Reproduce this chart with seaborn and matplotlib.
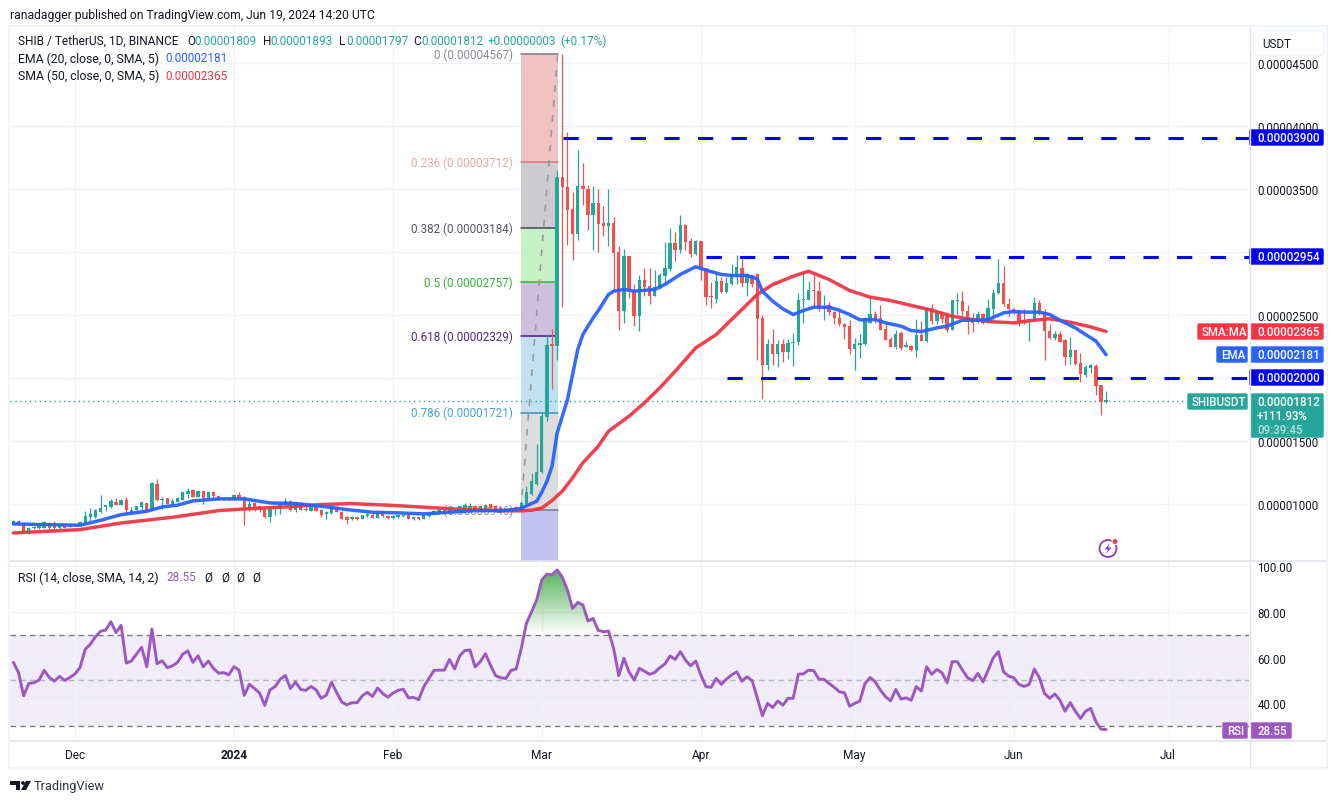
import numpy as np
import pandas as pd
import matplotlib
matplotlib.use("Agg")
import matplotlib.pyplot as plt
import seaborn as sns
from matplotlib.patches import Rectangle, Circle, FancyBboxPatch, PathPatch, Polygon
from matplotlib.path import Path

# prices are in units of 0.00001, one candle a day, first day is 19 Nov 2023
opens = [.838, .865, .841, .767, .804, .804, .809, .846, .830, .809,
         .838, .812, .820, .825, .846, .894, .894, .934, .973, .971,
         1.016, .992, 1.032, .934, .952, .973, 1.008, .952, 1.159, 1.026,
         1.042, .997, 1.016, 1.032, 1.079, 1.106, 1.055, 1.103, 1.047, 1.092,
         1.063, 1.032, 1.042, 1.026, 1.069, 1.055, .947, 1.002, .981, .957,
         .897, .955, .955, .987, 1.018, .952, .992, .955, .944, .971,
         .952, .918, .923, .973, .936, .894, .881, .886, .881, .899,
         .912, .886, .934, .905, .886, .894, .899, .910, .881, .886,
         .881, .899, .912, .920, .947, .926, .952, .939, .952, .952,
         .984, .957, .957, .995, .979, .965, .957, .939, .971, .955,
         1.000, 1.079, 1.159, 1.248, 1.688, 2.27, 2.248, 3.595, 3.516, 3.334,
         3.143, 3.524, 3.500, 3.286, 3.389, 3.223, 3.199, 3.223, 2.993, 2.532,
         2.961, 2.694, 2.485, 2.778, 2.723, 2.651, 2.715, 2.802, 2.858, 3.064,
         3.016, 3.207, 3.080, 2.977, 3.080, 2.866, 2.646, 2.627, 2.770, 2.675,
         2.739, 2.810, 2.871, 2.747, 2.810, 2.818, 2.474, 2.103, 2.270, 2.183,
         2.270, 2.201, 2.273, 2.281, 2.614, 2.619, 2.691, 2.685, 2.553, 2.572,
         2.524, 2.474, 2.421, 2.413, 2.230, 2.262, 2.267, 2.434, 2.508, 2.474,
         2.386, 2.302, 2.244, 2.355, 2.244, 2.254, 2.222, 2.341, 2.291, 2.548,
         2.452, 2.513, 2.495, 2.381, 2.604, 2.609, 2.532, 2.474, 2.439, 2.505,
         2.434, 2.545, 2.667, 2.751, 2.587, 2.545, 2.532, 2.455, 2.455, 2.452,
         2.593, 2.521, 2.373, 2.315, 2.349, 2.294, 2.161, 2.222, 2.116, 2.024,
         2.072, 2.095, 1.939, 1.809]
highs = [.873, .873, .846, .815, .825, .833, .860, .852, .860, .838,
         .841, .828, .836, .860, .944, .968, .960, 1.071, .984, 1.039,
         1.045, 1.037, 1.053, .973, .984, 1.016, 1.008, 1.174, 1.196, 1.050,
         1.047, 1.047, 1.050, 1.095, 1.127, 1.114, 1.103, 1.103, 1.095, 1.098,
         1.071, 1.050, 1.053, 1.071, 1.095, 1.063, 1.018, 1.010, .984, .957,
         .957, .984, 1.016, 1.047, 1.032, 1.010, 1.010, .979, .973, .979,
         .957, .939, .979, .979, .939, .899, .899, .891, .910, .923,
         .926, .928, .944, .912, .907, .910, .915, .912, .905, .891,
         .910, .930, .947, .965, .960, .968, .960, .984, 1.005, 1.005,
         .990, .984, .995, 1.000, .985, .973, .965, .968, .984, 1.018,
         1.143, 1.244, 1.476, 1.725, 2.347, 2.389, 3.651, 4.567, 3.950, 3.474,
         3.802, 3.699, 3.532, 3.524, 3.493, 3.358, 3.493, 3.278, 3.043, 3.024,
         2.961, 2.739, 2.810, 2.866, 2.866, 2.850, 2.831, 3.072, 3.188, 3.154,
         3.286, 3.215, 3.104, 3.088, 3.080, 2.871, 2.757, 2.844, 2.799, 2.794,
         2.905, 2.969, 2.958, 2.831, 2.815, 2.826, 2.500, 2.302, 2.389, 2.296,
         2.307, 2.302, 2.355, 2.672, 2.831, 2.770, 2.810, 2.770, 2.659, 2.603,
         2.530, 2.545, 2.434, 2.460, 2.315, 2.349, 2.480, 2.638, 2.527, 2.579,
         2.434, 2.323, 2.381, 2.368, 2.288, 2.262, 2.468, 2.447, 2.561, 2.587,
         2.535, 2.524, 2.505, 2.619, 2.672, 2.688, 2.579, 2.513, 2.532, 2.513,
         2.627, 2.699, 2.942, 2.889, 2.632, 2.553, 2.540, 2.540, 2.466, 2.638,
         2.619, 2.545, 2.421, 2.368, 2.368, 2.302, 2.323, 2.222, 2.191, 2.103,
         2.111, 2.111, 1.944, 1.893]
lows = [.833, .833, .767, .762, .801, .801, .807, .801, .799, .801,
        .809, .810, .818, .820, .841, .862, .883, .926, .939, .965,
        .992, .992, .910, .918, .918, .944, .952, .947, 1.021, .955,
        .997, .992, 1.013, 1.029, 1.045, 1.050, 1.055, 1.000, 1.042, 1.045,
        1.026, 1.029, 1.026, 1.026, 1.045, .828, .939, .939, .931, .886,
        .852, .907, .915, .984, .939, .931, .952, .944, .942, .939,
        .894, .881, .920, .931, .878, .841, .873, .873, .878, .897,
        .886, .883, .894, .881, .881, .889, .897, .878, .873, .873,
        .878, .897, .910, .915, .915, .923, .934, .936, .947, .947,
        .947, .952, .952, .955, .937, .930, .931, .934, .950, .950,
        .994, 1.071, 1.145, 1.240, 1.653, 1.910, 2.137, 2.561, 3.048, 2.932,
        3.088, 3.366, 3.167, 3.016, 3.000, 3.120, 3.040, 2.699, 2.381, 2.429,
        2.633, 2.413, 2.366, 2.651, 2.585, 2.646, 2.699, 2.739, 2.844, 2.921,
        2.985, 3.016, 2.953, 2.969, 2.773, 2.572, 2.553, 2.588, 2.667, 2.672,
        2.731, 2.739, 2.720, 2.646, 2.720, 2.143, 1.833, 2.058, 2.103, 2.082,
        2.124, 2.148, 2.090, 2.262, 2.429, 2.614, 2.566, 2.527, 2.455, 2.500,
        2.421, 2.413, 2.302, 2.183, 2.058, 2.156, 2.262, 2.429, 2.434, 2.381,
        2.296, 2.244, 2.228, 2.217, 2.241, 2.214, 2.161, 2.288, 2.286, 2.421,
        2.421, 2.429, 2.360, 2.375, 2.508, 2.500, 2.344, 2.365, 2.429, 2.423,
        2.429, 2.447, 2.660, 2.566, 2.492, 2.508, 2.408, 2.421, 2.288, 2.447,
        2.500, 2.143, 2.307, 2.294, 2.280, 2.103, 2.111, 2.098, 1.963, 2.003,
        2.037, 1.860, 1.701, 1.797]
closes = [.865, .833, .772, .809, .815, .828, .852, .809, .809, .828,
          .809, .825, .833, .852, .905, .920, .947, .968, .979, 1.018,
          .992, 1.032, .947, .947, .979, 1.010, .952, 1.161, 1.026, 1.039,
          1.000, 1.024, 1.042, 1.090, 1.103, 1.055, 1.103, 1.045, 1.090, 1.058,
          1.032, 1.047, 1.034, 1.071, 1.047, .952, 1.000, .976, .952, .894,
          .955, .971, 1.000, 1.018, .952, .997, .952, .947, .971, .942,
          .912, .934, .973, .934, .881, .873, .889, .881, .907, .918,
          .889, .926, .899, .889, .905, .907, .910, .881, .889, .881,
          .907, .926, .939, .952, .920, .965, .939, .979, .992, .984,
          .952, .979, .992, .965, .939, .939, .936, .965, .952, 1.005,
          1.090, 1.175, 1.254, 1.693, 2.262, 2.25, 3.595, 3.510, 3.326, 3.143,
          3.524, 3.493, 3.286, 3.389, 3.215, 3.199, 3.223, 2.985, 2.532, 2.961,
          2.683, 2.485, 2.778, 2.715, 2.651, 2.715, 2.810, 2.871, 3.064, 3.016,
          3.207, 3.072, 2.977, 3.080, 2.858, 2.638, 2.638, 2.770, 2.675, 2.747,
          2.818, 2.879, 2.747, 2.823, 2.744, 2.468, 2.103, 2.270, 2.183, 2.270,
          2.201, 2.275, 2.286, 2.619, 2.627, 2.691, 2.685, 2.553, 2.561, 2.519,
          2.476, 2.421, 2.405, 2.230, 2.270, 2.275, 2.474, 2.508, 2.460, 2.381,
          2.296, 2.244, 2.349, 2.236, 2.254, 2.222, 2.341, 2.291, 2.553, 2.452,
          2.532, 2.468, 2.381, 2.614, 2.614, 2.527, 2.439, 2.434, 2.505, 2.434,
          2.553, 2.672, 2.751, 2.580, 2.540, 2.519, 2.429, 2.429, 2.460, 2.593,
          2.513, 2.368, 2.315, 2.347, 2.283, 2.161, 2.222, 2.109, 2.029, 2.082,
          2.098, 1.931, 1.809, 1.812]

ema_days = [-43, -30, -26, -22, -17, -14, -11, -8, -3, 2, 7, 12, 17, 22, 27, 32, 37, 42, 47, 52, 55,
            56, 58, 59, 60, 61, 62, 63, 65, 66, 67, 68, 70, 71, 73, 74, 76, 78, 82, 84, 87, 90, 92, 95,
            97, 100, 102, 103, 105, 107, 109, 111, 113, 116, 118, 120, 122, 125, 127, 130, 132, 134,
            137, 139, 142, 145, 147, 150, 152, 154, 157, 159, 161, 164, 166, 168, 169, 170]
ema_vals = [.838, .828, .867, .912, .939, .973, .987, 1.021, 1.037, 1.037, 1.005, 1.000, .979, .952, .931,
            .926, .918, .931, .944, .944, .952, .963, 1.000, 1.018, 1.090, 1.177, 1.296, 1.561, 1.825, 2.024,
            2.222, 2.341, 2.473, 2.530, 2.659, 2.686, 2.699, 2.686, 2.699, 2.739, 2.818, 2.879, 2.852, 2.818,
            2.810, 2.810, 2.783, 2.685, 2.606, 2.545, 2.500, 2.532, 2.558, 2.558, 2.534, 2.500, 2.458, 2.460,
            2.434, 2.408, 2.373, 2.365, 2.394, 2.408, 2.455, 2.455, 2.460, 2.513, 2.524, 2.519, 2.519, 2.500,
            2.455, 2.394, 2.341, 2.290, 2.236, 2.181]
sma_days = [-43, -30, -22, -12, -3, 2, 10, 17, 23, 30, 37, 45, 52, 56, 58, 60, 62, 64, 66, 68, 71, 73, 77,
            80, 83, 86, 90, 94, 98, 102, 105, 109, 112, 116, 120, 124, 128, 132, 136, 140, 144, 148, 152,
            156, 159, 163, 167, 170]
sma_vals = [.767, .793, .846, .891, .944, .957, .973, .992, 1.000, .987, .971, .952, .944, .942, .947, .965,
            1.024, 1.098, 1.204, 1.323, 1.455, 1.574, 1.693, 1.799, 1.918, 2.050, 2.235, 2.341, 2.500, 2.659,
            2.738, 2.804, 2.844, 2.778, 2.691, 2.638, 2.611, 2.572, 2.534, 2.487, 2.460, 2.442, 2.434,
            2.455, 2.466, 2.439, 2.402, 2.365]

# one RSI value per candle
rsi_vals = [57.9, 53.4, 43.3, 48.7, 49, 50.2, 54.4, 51.3, 49.7, 51.8,
            50, 51.3, 52.8, 55.7, 63.6, 65.8, 69.1, 71.5, 72, 75.7,
            70.9, 74.1, 57.6, 58.5, 61.5, 64.5, 56, 72.5, 57.3, 58.6,
            55.6, 56.4, 57.9, 61.5, 62.9, 57.9, 60.8, 56, 58.5, 55.3,
            53.2, 53.4, 52.5, 56, 54.5, 43.5, 48.3, 46.5, 44.5, 39.1,
            45.9, 47.3, 50.5, 52.2, 46.5, 49.3, 46.1, 45.7, 47.4, 45.9,
            42.2, 43.6, 49.2, 44.8, 40.6, 39.4, 40.3, 40.3, 43.3, 44.8,
            43, 46.7, 44.3, 42.7, 44.5, 45.7, 46.2, 42.4, 42.6, 41.6,
            47.3, 50.9, 54.4, 54.5, 54.5, 59.2, 55, 60.8, 63.1, 63.3,
            55.9, 58.2, 61.7, 56.7, 52.1, 51.2, 50.9, 54.4, 55, 64,
            75, 80, 85.2, 93.9, 96.5, 96.1, 98.3,
            95.1, 89.5, 81.5, 84.1, 83, 76, 77.1, 71.9, 71.3, 71.6,
            64, 52.1, 59.7, 53.8, 50.2, 55.3, 54.1, 52.7, 53.5, 55.6,
            57.2, 60.7, 59.2, 62.6, 58.9, 56.4, 58.5, 52.4, 47.3, 47,
            50.9, 48.3, 50.6, 52.4, 53.8, 49.7, 51.6, 49.9, 42.4, 34.6,
            40, 38.2, 41, 39.2, 42.2, 42.2, 52.7, 52.9, 54.5, 54.3,
            50.6, 50.5, 48.7, 47, 45.1, 44.6, 38.8, 40, 41, 48.7,
            51.3, 49.4, 45.8, 42.9, 41.1, 46.1, 41.9, 42.4, 41.4, 47.3,
            45.4, 56, 52.7, 54.8, 53.4, 49, 58.2, 58.2, 54.5, 51.2,
            49.9, 53.1, 49.4, 54.5, 59.9, 62.6, 53.8, 51.9, 51.2, 48.3,
            47.4, 48.3, 55, 51.2, 44.3, 42.2, 44.1, 41.4, 36.6, 40.3,
            36.6, 33.4, 36.6, 37.8, 32, 28.7, 28.55]

fib_levels = [4.567, 3.712, 3.184, 2.757, 2.329, 1.721, .946]
fib_labels = ["0 (0.00004567)", "0.236 (0.00003712)", "0.382 (0.00003184)", "0.5 (0.00002757)",
              "0.618 (0.00002329)", "0.786 (0.00001721)", "1 (0.00000946)"]
fib_lines = ["#787b86", "#e57373", "#45454f", "#22c322", "#4a148c", "#3d8ec4", "#787b86"]
fib_text = ["#8a8d96", "#eaa79e", "#55555f", "#35b535", "#4a2a85", "#4aa0d8", "#8a8d96"]
fib_fills = ["#f0c2c2", "#cbcbd0", "#c5f1c5", "#cdbfe0", "#c2e0f2", "#dcdcdc", "#c0c3ee"]

sr_levels = [3.900, 2.954, 2.000]
sr_start = [64.1, 92, 96.1]

price_ticks = [1.0, 1.5, 2.0, 2.5, 3.0, 3.5, 4.0, 4.5]
rsi_ticks = [40, 60, 80, 100]
month_days = [-31, 0, 31, 60, 91, 121, 152, 182]
month_labels = ["Dec", "2024", "Feb", "Mar", "Apr", "May", "Jun", "Jul"]

UP = "#26a69a"
DOWN = "#ef5350"
BLUE = "#2962ff"
RED = "#f23645"
PURPLE = "#9c58c0"
GRID = "#f0f3fa"
EDGE = "#e0e3eb"
INK = "#131722"
W, H = 1339, 804
UNIT = 1e-5

sns.set_theme(style="white")
plt.rcParams["font.family"] = ["Roboto", "DejaVu Sans"]

df = pd.DataFrame({"open": opens, "high": highs, "low": lows, "close": closes}) * UNIT
df["day"] = np.arange(-43, -43 + len(df))
df["rsi"] = rsi_vals
up = df["close"] >= df["open"]

fig = plt.figure(figsize=(W / 100, H / 100), dpi=100, facecolor="white")


def box(x0, y0, x1, y1):
    return [x0 / W, 1 - y1 / H, (x1 - x0) / W, (y1 - y0) / H]


ax = fig.add_axes(box(10, 28.5, 1249, 561.5))
ax_rsi = fig.add_axes(box(10, 563, 1249, 741))
over = fig.add_axes([0, 0, 1, 1], zorder=10)
over.set_xlim(0, W)
over.set_ylim(H, 0)
over.axis("off")
over.patch.set_alpha(0)

# price panel
ax.set_xlim(-43.66, 197.85)
ax.set_ylim(.548 * UNIT, 4.778 * UNIT)
ax.set_xticks(month_days)
ax.set_xticklabels([])
ax.set_yticks([p * UNIT for p in price_ticks])
ax.set_yticklabels(["%.8f" % (p * UNIT) for p in price_ticks], fontsize=8.3, color=INK)
ax.yaxis.tick_right()
ax.tick_params(axis="both", length=0)
ax.tick_params(axis="y", pad=6)
ax.grid(True, color=GRID, linewidth=1)
ax.set_axisbelow(True)
for s in ax.spines.values():
    s.set_visible(False)

# fib blocks
fib_x0, fib_x1 = 55.9, 63.1
fib_edges = fib_levels + [ax.get_ylim()[0] / UNIT]
for i in range(len(fib_levels)):
    ax.fill_between([fib_x0, fib_x1], fib_edges[i + 1] * UNIT, fib_edges[i] * UNIT,
                    color=fib_fills[i], linewidth=0, zorder=1)
    ax.plot([fib_x0, fib_x1], [fib_levels[i] * UNIT] * 2, color=fib_lines[i], lw=1.1, zorder=1.5)
    ax.text(fib_x0 - 1.55, fib_levels[i] * UNIT, fib_labels[i], ha="right", va="center",
            fontsize=8.4, color=fib_text[i], zorder=1.2)
ax.plot([fib_x0, fib_x1], [fib_levels[-1] * UNIT, fib_levels[0] * UNIT], color="#9a9a9a", lw=1.2,
        linestyle=(0, (4, 5)), zorder=1.6)

# candles
ax.vlines(df["day"][up], df["low"][up], df["high"][up], color=UP, lw=0.9, zorder=3)
ax.vlines(df["day"][~up], df["low"][~up], df["high"][~up], color=DOWN, lw=0.9, zorder=3)
ax.bar(df["day"][up], (df["close"] - df["open"])[up].clip(lower=.012 * UNIT), bottom=df["open"][up],
       width=.66, color=UP, linewidth=0, zorder=3)
ax.bar(df["day"][~up], (df["open"] - df["close"])[~up].clip(lower=.012 * UNIT), bottom=df["close"][~up],
       width=.66, color=DOWN, linewidth=0, zorder=3)

ma = pd.DataFrame({"day": ema_days, "ema": np.array(ema_vals) * UNIT})
ma2 = pd.DataFrame({"day": sma_days, "sma": np.array(sma_vals) * UNIT})
sns.lineplot(data=ma2, x="day", y="sma", ax=ax, color=RED, linewidth=2.5, alpha=.95, zorder=4)
sns.lineplot(data=ma, x="day", y="ema", ax=ax, color=BLUE, linewidth=2.5, alpha=.95, zorder=4.5)
ax.set_xlabel("")
ax.set_ylabel("")

# support and resistance lines
for lvl, start in zip(sr_levels, sr_start):
    ax.plot([start, ax.get_xlim()[1]], [lvl * UNIT, lvl * UNIT], color="#0000ff", lw=2.2,
            linestyle=(0, (5, 6)), zorder=5)
ax.axhline(closes[-1] * UNIT, color=UP, lw=1, linestyle=(0, (1, 2.5)), zorder=2)

# rsi panel
ax_rsi.set_xlim(ax.get_xlim())
ax_rsi.set_ylim(24.0, 101.75)
ax_rsi.set_xticks(month_days)
ax_rsi.set_xticklabels(month_labels, fontsize=8.6, color=INK)
ax_rsi.get_xticklabels()[1].set_fontweight("bold")
ax_rsi.set_yticks(rsi_ticks)
ax_rsi.set_yticklabels(["%.2f" % t for t in rsi_ticks], fontsize=8.3, color=INK)
ax_rsi.yaxis.tick_right()
ax_rsi.tick_params(axis="both", length=0)
ax_rsi.tick_params(axis="y", pad=6)
ax_rsi.tick_params(axis="x", pad=5.5)
ax_rsi.grid(True, color=GRID, linewidth=1)
ax_rsi.set_axisbelow(True)
for s in ax_rsi.spines.values():
    s.set_visible(False)
ax_rsi.axhspan(30, 70, color="#f0ecf8", linewidth=0, zorder=.5)
ax_rsi.axhline(70, color="#787b86", lw=1, linestyle=(0, (4, 3)), zorder=1.5)
ax_rsi.axhline(50, color="#b2b5be", lw=1, linestyle=(0, (4, 3)), zorder=1.5)
ax_rsi.axhline(30, color="#787b86", lw=1, linestyle=(0, (4, 3)), zorder=1.5)

# green gradient under the overbought part
shape = ax_rsi.fill_between(df["day"], 70, df["rsi"], where=df["rsi"] > 70, interpolate=True,
                            color="none", linewidth=0)
grad = np.zeros((100, 2, 4))
grad[..., 0] = 76 / 255
grad[..., 1] = 175 / 255
grad[..., 2] = 80 / 255
grad[..., 3] = np.linspace(0, .95, 100)[:, None]
im = ax_rsi.imshow(grad, extent=[df["day"].min(), df["day"].max(), 70, max(rsi_vals)], origin="lower",
                   aspect="auto", zorder=1.8)
im.set_clip_path(PathPatch(Path.make_compound_path(*shape.get_paths()), transform=ax_rsi.transData))
ax_rsi.set_xlim(ax.get_xlim())
ax_rsi.set_ylim(24.0, 101.75)

sns.lineplot(data=df, x="day", y="rsi", ax=ax_rsi, color=PURPLE, linewidth=2.1, zorder=3)
ax_rsi.set_xlabel("")
ax_rsi.set_ylabel("")

# frame and separators
for x0, y0, x1, y1 in [(8, 26, 1328, 28), (8, 768, 1328, 770), (8, 26, 10, 770), (1326, 26, 1328, 770)]:
    over.add_patch(Rectangle((x0, y0), x1 - x0, y1 - y0, color=GRID, lw=0))
over.plot([10, 1326], [562, 562], color=EDGE, lw=1.2)
over.plot([10, 1326], [742, 742], color=EDGE, lw=1.2)
over.plot([1249.5, 1249.5], [28, 768], color=EDGE, lw=1)


def tag(x0, y0, x1, y1, color, label=None, label_x=None, size=8.3, weight="medium"):
    over.add_patch(FancyBboxPatch((x0 + 1, y0 + 1), x1 - x0 - 2, y1 - y0 - 2, boxstyle="round,pad=0,rounding_size=1",
                                  fc=color, ec=color, lw=1))
    if label:
        over.text(label_x, (y0 + y1) / 2 + .3, label, color="white", fontsize=size, fontweight=weight,
                  ha="left", va="center")


tag(1249, 130, 1324, 147, "#0000ff", "0.00003900", 1257)
tag(1249, 249, 1324, 266, "#0000ff", "0.00002954", 1257)
tag(1197, 324, 1248, 341, RED, "SMA:MA", 1202)
tag(1250, 324, 1324, 341, RED, "0.00002365", 1257)
tag(1216, 347, 1248, 364, BLUE, "EMA", 1221)
tag(1250, 347, 1324, 364, BLUE, "0.00002181", 1257)
tag(1249, 370, 1324, 387, "#0000ff", "0.00002000", 1257)
tag(1187, 394, 1248, 411, UP, "SHIBUSDT", 1192)
tag(1250, 394, 1324, 439, UP, "0.00001812", 1257)
over.texts[-1].set_y(403)
over.text(1257, 417, "+111.93%", color="white", fontsize=8.3, fontweight="medium", ha="left", va="center")
over.text(1257, 431, "09:39:45", color="#b5e3de", fontsize=8.3, fontweight="medium", ha="left", va="center")
tag(1222, 723, 1248, 740, PURPLE, "RSI", 1227)
tag(1250, 723, 1292, 740, PURPLE, "28.55", 1257)

# the currency button sits on a white strip that cuts the top tick label
over.add_patch(Rectangle((1250.5, 29), 75, 30, fc="white", ec="none"))
over.add_patch(FancyBboxPatch((1254, 32), 70, 24, boxstyle="round,pad=0,rounding_size=3", fc="white",
                              ec=GRID, lw=1.2))
over.text(1262, 44.5, "USDT", color=INK, fontsize=8.4, va="center")

# top text
over.text(10, 15, "ranadagger published on TradingView.com, Jun 19, 2024 14:20 UTC", color=INK, fontsize=8.7,
          va="center")
over.text(18, 41.5, "SHIB / TetherUS, 1D, BINANCE", color=INK, fontsize=8.6, va="center")
for x, s, col in [(187, "O", INK), (194.5, "0.00001809", UP), (263, "H", INK), (270, "0.00001893", UP),
                  (339, "L", INK), (346, "0.00001797", UP), (413, "C", INK), (421, "0.00001812", UP),
                  (488, "+0.00000003", UP), (560, "(+0.17%)", UP)]:
    over.text(x, 41.5, s, color=col, fontsize=8.5, va="center")
over.text(18, 59, "EMA (20, close, 0, SMA, 5)", color=INK, fontsize=8.8, va="center")
over.text(165, 59, "0.00002181", color=BLUE, fontsize=8.5, va="center")
over.text(18, 76, "SMA (50, close, 0, SMA, 5)", color=INK, fontsize=8.8, va="center")
over.text(165, 76, "0.00002365", color=RED, fontsize=8.5, va="center")
over.text(18, 578, "RSI (14, close, SMA, 14, 2)", color=INK, fontsize=8.8, va="center")
over.text(166, 578, "28.55", color=PURPLE, fontsize=8.5, va="center")
for x in [204, 221, 236, 252]:
    over.text(x, 578, "\u00d8", color=INK, fontsize=8.5, va="center")

# bolt icon
over.add_patch(Circle((1108, 549.5), 8.5, fc="none", ec="#8e3fb0", lw=1.3))
over.add_patch(Polygon([[1110, 544], [1104.5, 550.5], [1108, 550.5], [1106, 555], [1111.5, 548.5], [1108, 548.5]],
                       closed=True, fc="#8e3fb0", ec="none"))
over.add_patch(Circle((1115, 542.5), 3, fc="#f23645", ec="white", lw=.8))

# logo
over.add_patch(Polygon([[10, 782], [20, 782], [20, 791], [15.5, 791], [15.5, 786], [10, 786]], closed=True,
                       fc=INK, ec="none"))
over.add_patch(Circle((23, 784), 1.9, fc=INK, ec="none"))
over.add_patch(Polygon([[26, 782], [31, 782], [26, 791], [21, 791]], closed=True, fc=INK, ec="none"))
over.text(34, 786.5, "TradingView", color="#2e3440", fontsize=9.2, va="center")

fig.savefig("out.png", dpi=100)
